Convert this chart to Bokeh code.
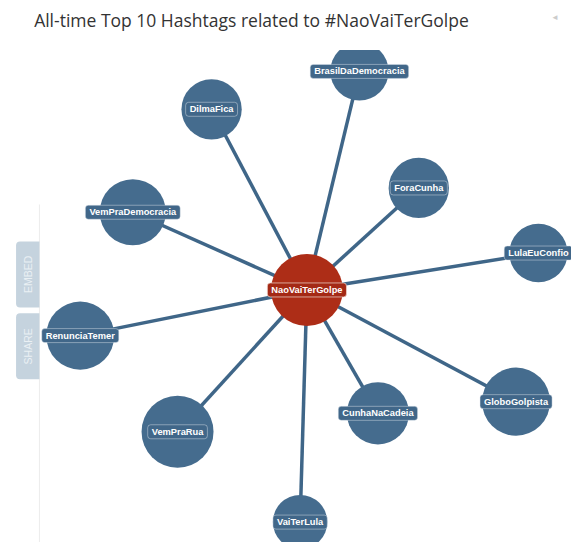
from bokeh.plotting import figure
from bokeh.models import ColumnDataSource, Range1d
from bokeh.core.properties import value
from bokeh.embed import file_html
from bokeh.resources import INLINE

# ---- data ----
chart_title = "All-time Top 10 Hashtags related to #NaoVaiTerGolpe"
hub_tag = ["NaoVaiTerGolpe"]
hub_x = [315]
hub_y = [298]
hub_r = [37]

tags = ["BrasilDaDemocracia", "DilmaFica", "ForaCunha", "VemPraDemocracia",
        "LulaEuConfio", "RenunciaTemer", "GloboGolpista", "CunhaNaCadeia",
        "VemPraRua", "VaiTerLula"]
node_x = [369, 217, 430, 136, 553, 82, 530, 388, 182, 308]
node_y = [73, 112, 193, 218, 260, 345, 413, 425, 444, 537]
node_r = [30, 31, 31, 34, 30, 35, 35, 32, 37, 28]

side_tabs = ["EMBED", "SHARE"]

BLUE = "#456c8e"
LINE = "#3f6688"
RED = "#ad2d17"

p = figure(width=571, height=542, output_backend="svg", toolbar_location=None,
           x_range=Range1d(0, 587), y_range=Range1d(558, 0),
           min_border=0, outline_line_color=None)
p.axis.visible = False
p.grid.visible = False

nodes = ColumnDataSource(dict(tag=tags, x=node_x, y=node_y, r=node_r,
                              hx=hub_x * len(tags), hy=hub_y * len(tags)))
hub = ColumnDataSource(dict(tag=hub_tag, x=hub_x, y=hub_y, r=hub_r))

# faint container border on the left
p.segment(x0=[40], y0=[210], x1=[40], y1=[560], line_color="#ececec", line_width=1)

# edges
p.segment(x0="hx", y0="hy", x1="x", y1="y", source=nodes,
          line_color=LINE, line_width=3.5)

# nodes
p.circle(x="x", y="y", radius="r", source=nodes, fill_color=BLUE, line_color=None)
p.circle(x="x", y="y", radius="r", source=hub, fill_color=RED, line_color=None)

# labels
p.text(x="x", y="y", text="tag", source=nodes, text_color="white",
       text_font=value("Liberation Sans"), text_font_size="9.3px", text_font_style="bold",
       text_align="center", text_baseline="middle",
       background_fill_color="#416789", border_line_color="#dfe7ee", border_line_alpha=0.45,
       padding=(4, 2), border_radius=3)
p.text(x="x", y="y", text="tag", source=hub, text_color="white",
       text_font=value("Liberation Sans"), text_font_size="9.3px", text_font_style="bold",
       text_align="center", text_baseline="middle",
       background_fill_color="#a42915", border_line_color="#f0d8d0", border_line_alpha=0.7,
       padding=(4, 2), border_radius=3)

# side tabs
p.rect(x=[28, 28], y=[282, 356], width=24, height=68, fill_color="#c5d3de",
       line_color=None, border_radius=(4, 0, 0, 4))
p.text(x=[28, 28], y=[282, 356], text=side_tabs, angle=1.5708,
       text_color="#eaf0f4", text_font=value("Liberation Sans"), text_font_size="10.5px",
       text_align="center", text_baseline="middle")

# header band (clips the top node like the original)
p.quad(left=[0], right=[587], top=[0], bottom=[51], fill_color="white", line_color=None)

# title
p.text(x=[258], y=[20], text=[chart_title], text_color="#333333",
       text_font=value("Open Sans"), text_font_size="17.5px",
       text_align="center", text_baseline="middle")
p.text(x=[570], y=[17], text=["◄"], text_color="#cccccc", text_font_size="8px",
       text_align="center", text_baseline="middle")

open("out.html", "w").write(file_html(p, INLINE))
